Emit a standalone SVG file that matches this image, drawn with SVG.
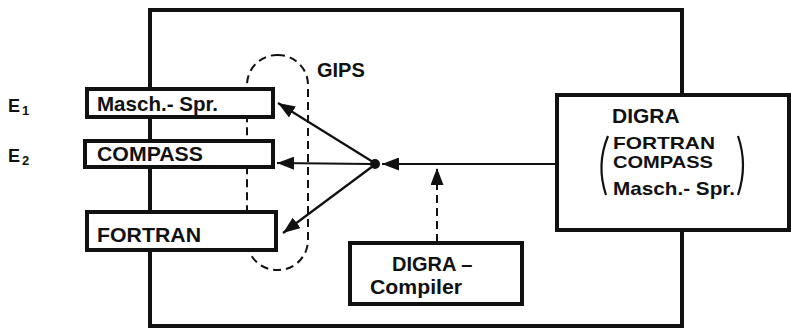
<svg xmlns="http://www.w3.org/2000/svg" width="791" height="332" viewBox="0 0 791 332">
<defs>
<style>
.box{fill:#fff;stroke:#111;stroke-width:4}
.frame{fill:none;stroke:#111;stroke-width:4}
.t{font-family:"Liberation Sans",Arial,sans-serif;font-weight:bold;fill:#111}
.ln{stroke:#111;stroke-width:2.2;fill:none}
.dash{stroke:#111;stroke-width:2;fill:none;stroke-dasharray:8 5}
</style>
<marker id="ah" viewBox="0 0 10 10" refX="10" refY="5" markerWidth="17" markerHeight="13" markerUnits="userSpaceOnUse" orient="auto" preserveAspectRatio="none">
<path d="M0,0 L10,5 L0,10 z" fill="#111"/>
</marker>
</defs>
<g id="system">
<path class="frame" d="M557,95 L682,95 L682,10 L150,10 L150,326 L682,326 L682,230"/>
</g>
<g id="gips">
<rect class="dash" x="247" y="55" width="61" height="215" rx="30" ry="30"/>
<text class="t" x="317" y="77" font-size="20">GIPS</text>
</g>
<g id="masch">
<rect class="box" x="87" y="89" width="186" height="28"/>
<text class="t" x="97" y="111" font-size="21" textLength="121" lengthAdjust="spacingAndGlyphs">Masch.- Spr.</text>
</g>
<g id="compass">
<rect class="box" x="85" y="141" width="188" height="26"/>
<text class="t" x="97" y="161" font-size="21" textLength="106" lengthAdjust="spacingAndGlyphs">COMPASS</text>
</g>
<g id="fortran">
<rect class="box" x="87" y="212" width="189" height="38"/>
<text class="t" x="97" y="242" font-size="21" textLength="104" lengthAdjust="spacingAndGlyphs">FORTRAN</text>
</g>
<g id="labels">
<text class="t" x="8" y="112" font-size="18">E<tspan font-size="13" dx="2" dy="3">1</tspan></text>
<text class="t" x="8" y="162" font-size="18">E<tspan font-size="13" dx="2" dy="3">2</tspan></text>
</g>
<g id="digra">
<rect class="box" x="557" y="95" width="232" height="135"/>
<text class="t" x="612" y="123" font-size="21">DIGRA</text>
<text class="t" x="613" y="149" font-size="17" textLength="102" lengthAdjust="spacingAndGlyphs">FORTRAN</text>
<text class="t" x="613" y="168" font-size="17" textLength="100" lengthAdjust="spacingAndGlyphs">COMPASS</text>
<text class="t" x="613" y="195" font-size="19" textLength="122" lengthAdjust="spacingAndGlyphs">Masch.- Spr.</text>
<path class="ln" d="M608,136 Q596,165 606,195"/>
<path class="ln" d="M738,136 Q748,165 738,195"/>
</g>
<g id="compiler">
<rect class="box" x="350" y="243" width="172" height="61"/>
<text class="t" x="392" y="271" font-size="20">DIGRA –</text>
<text class="t" x="370" y="294" font-size="20" textLength="92" lengthAdjust="spacingAndGlyphs">Compiler</text>
</g>
<g id="connectors">
<circle cx="375" cy="164" r="5" fill="#111"/>
<line class="ln" x1="557" y1="164" x2="382" y2="164" marker-end="url(#ah)"/>
<line class="ln" x1="373" y1="162" x2="278" y2="103" marker-end="url(#ah)"/>
<line class="ln" x1="371" y1="164" x2="277" y2="163" marker-end="url(#ah)"/>
<line class="ln" x1="373" y1="166" x2="283" y2="233" marker-end="url(#ah)"/>
<line class="dash" x1="437" y1="242" x2="437" y2="168" marker-end="url(#ah)"/>
</g>
</svg>
